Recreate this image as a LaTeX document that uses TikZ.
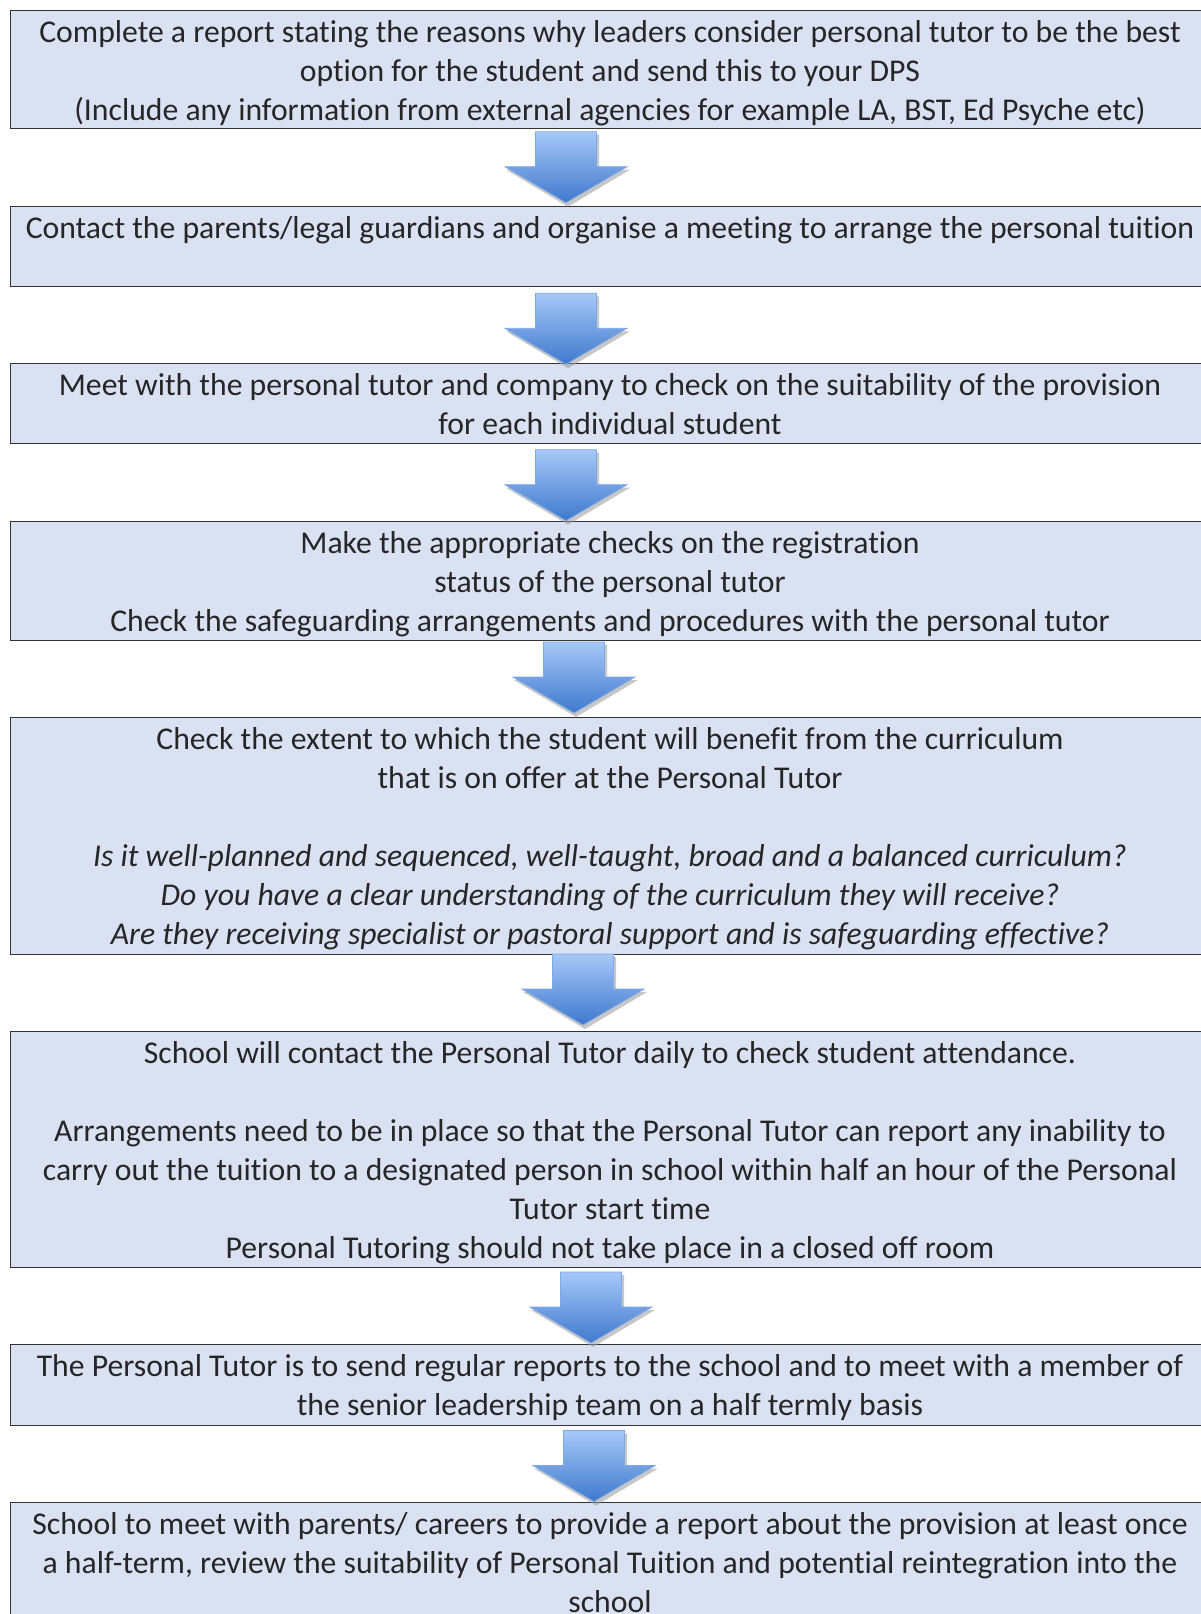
\documentclass[tikz,border=0pt]{standalone}
\usepackage{fontspec}
\setmainfont{Carlito}[Ligatures=NoCommon]
\definecolor{boxfill}{HTML}{D9E1F2}
\definecolor{arrtop}{HTML}{A6C8F8}
\definecolor{arrbot}{HTML}{3F79CD}
\definecolor{arrline}{HTML}{7FA9E6}
\tikzset{
  boxstyle/.style={draw=black!80, line width=1pt, fill=boxfill},
  txt/.style={align=center, inner sep=0pt, anchor=north, text=black!85,
    font=\fontsize{31.7}{39}\selectfont},
  arrowbody/.style={top color=arrtop, bottom color=arrbot, draw=arrline, line width=0.8pt},
  arrowshadow/.style={fill=black!40, opacity=0.55},
  blockarrow/.pic={
    \fill[arrowshadow] (-29,3) -- (33,3) -- (33,38) -- (64,38) -- (2,75) -- (-60,38) -- (-29,38) -- cycle;
    \path[arrowbody] (-30.5,0) -- (30.5,0) -- (30.5,35) -- (61,35) -- (0,71) -- (-61,35) -- (-30.5,35) -- cycle;
  }
}
\begin{document}
\begin{tikzpicture}[x=1pt,y=-1pt]
\useasboundingbox (0,0) rectangle (1201,1614);
\clip (0,0) rectangle (1201,1614);
\fill[white] (0,0) rectangle (1201,1614);
% boxes
\draw[boxstyle] (10.3,10.3) rectangle (1215,128.6);
\draw[boxstyle] (10.3,206) rectangle (1215,286);
\draw[boxstyle] (10.3,363) rectangle (1215,443.5);
\draw[boxstyle] (10.3,521) rectangle (1215,640);
\draw[boxstyle] (10.3,717) rectangle (1215,954);
\draw[boxstyle] (10.3,1031) rectangle (1215,1267);
\draw[boxstyle] (10.3,1344) rectangle (1215,1425);
\draw[boxstyle] (10.3,1502.5) rectangle (1215,1640);
% arrows
\pic at (566,131.7) {blockarrow};
\pic at (566,293.3) {blockarrow};
\pic at (566,449.7) {blockarrow};
\pic at (574,642) {blockarrow};
\pic at (583,954) {blockarrow};
\pic at (591,1272) {blockarrow};
\pic at (594,1430.5) {blockarrow};
% texts
\node[txt] (t1) at (610,15) {\strut Complete a report stating the reasons why leaders consider personal tutor to be the best\\
\strut option for the student and send this to your DPS\\
\strut (Include any information from external agencies for example LA, BST, Ed Psyche etc)};
\node[txt] (t2) at (610,210.7) {\strut Contact the parents/legal guardians and organise a meeting to arrange the personal tuition};
\node[txt] (t3) at (610,367.7) {\strut Meet with the personal tutor and company to check on the suitability of the provision\\
\strut for each individual student};
\node[txt] (t4) at (610,525.7) {\strut Make the appropriate checks on the registration\\
\strut status of the personal tutor\\
\strut Check the safeguarding arrangements and procedures with the personal tutor};
\node[txt] (t5) at (610,721.7) {\strut Check the extent to which the student will benefit from the curriculum\\
\strut that is on offer at the Personal Tutor\\
\strut\\
\strut\itshape Is it well-planned and sequenced, well-taught, broad and a balanced curriculum?\\
\strut\itshape Do you have a clear understanding of the curriculum they will receive?\\
\strut\itshape Are they receiving specialist or pastoral support and is safeguarding effective?};
\node[txt] (t6) at (610,1036) {\strut School will contact the Personal Tutor daily to check student attendance.\\
\strut\\
\strut Arrangements need to be in place so that the Personal Tutor can report any inability to\\
\strut carry out the tuition to a designated person in school within half an hour of the Personal\\
\strut Tutor start time\\
\strut Personal Tutoring should not take place in a closed off room};
\node[txt] (t7) at (610,1349) {\strut The Personal Tutor is to send regular reports to the school and to meet with a member of\\
\strut the senior leadership team on a half termly basis};
\node[txt] (t8) at (610,1507) {\strut School to meet with parents/ careers to provide a report about the provision at least once\\
\strut a half-term, review the suitability of Personal Tuition and potential reintegration into the\\
\strut school};
\end{tikzpicture}
\end{document}
